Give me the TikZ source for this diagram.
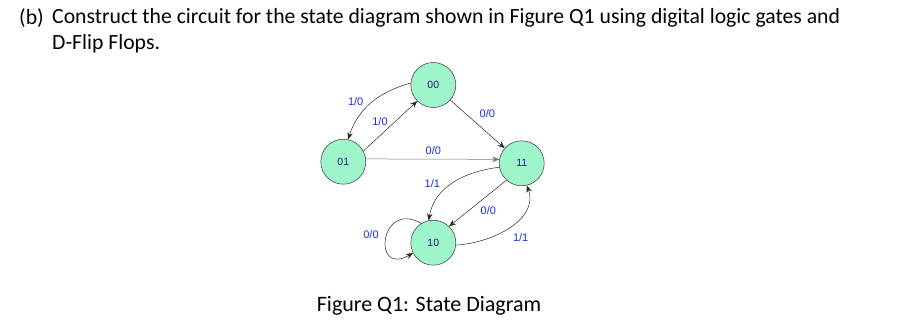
\documentclass[tikz,border=0pt]{standalone}
\usepackage{fontspec}
\setmainfont{Carlito}
\newfontfamily\diagfont{Liberation Sans}
\usepackage{tikz}
\usetikzlibrary{arrows.meta}
\definecolor{stategreen}{RGB}{158,245,201}
\definecolor{statetext}{RGB}{30,30,120}
\definecolor{lblblue}{RGB}{25,45,235}
\tikzset{state/.style={circle, draw=black!80, fill=stategreen, line width=0.5pt, minimum size=45pt, inner sep=0pt, text=statetext, font=\diagfont\fontsize{10.5}{12}\selectfont}}
\tikzset{lbl/.style={text=lblblue, inner sep=0pt, font=\diagfont\fontsize{11}{13}\selectfont}}
\tikzset{tr/.style={-{Stealth[length=7pt,width=5.5pt]}, draw=black!85, line width=0.5pt}}
\tikzset{qtext/.style={anchor=west, inner sep=0pt, font=\fontsize{21.7}{26}\selectfont}}

\begin{document}
\begin{tikzpicture}[x=1pt, y=-1pt]
\useasboundingbox (0,0) rectangle (910,326);
% question text
\node[qtext] (qb) at (19,18) {(b)};
\node[qtext] (q1) at (52,18) {Construct the circuit for the state diagram shown in Figure Q1 using digital logic gates and};
\node[qtext] (q2) at (52,44) {D-Flip Flops.};
% states
\node[state] (s00) at (433.3,85) {00};
\node[state] (s01) at (343.3,161.7) {01};
\node[state] (s11) at (521.7,163.3) {11};
\node[state] (s10) at (433.3,242.7) {10};
% transitions
\draw[tr] (s00) -- (s11);
\draw[tr] (s01.28) -- (s00.-135);
\draw[tr, draw=black!55] (s01.7) -- (s11.170);
\draw[tr] (s00.175) to[out=196, in=72] (s01.78);
\draw[tr] (s11.190) to[out=187, in=80] (s10.102);
\draw[tr] (s11.-132) -- (s10.46);
\draw[tr] (s10.-6) to[out=3, in=-70] (s11.-77);
\draw[tr] (s10.122) to[out=150, in=210, looseness=4] (s10.-153);
% labels
\node[lbl] (l00a) at (355.7,101.7) {1/0};
\node[lbl] (l01a) at (380,121.7) {1/0};
\node[lbl] (l00b) at (487.3,114) {0/0};
\node[lbl] (l01b) at (433.3,150.7) {0/0};
\node[lbl] (l11a) at (432.3,183.3) {1/1};
\node[lbl] (l11b) at (488.3,210.7) {0/0};
\node[lbl] (l10a) at (520.7,237.7) {1/1};
\node[lbl] (l10b) at (371,235) {0/0};
% caption
\node[inner sep=0pt, font=\fontsize{22}{26}\selectfont] (cap) at (429,306) {Figure Q1: State Diagram};
\end{tikzpicture}
\end{document}
